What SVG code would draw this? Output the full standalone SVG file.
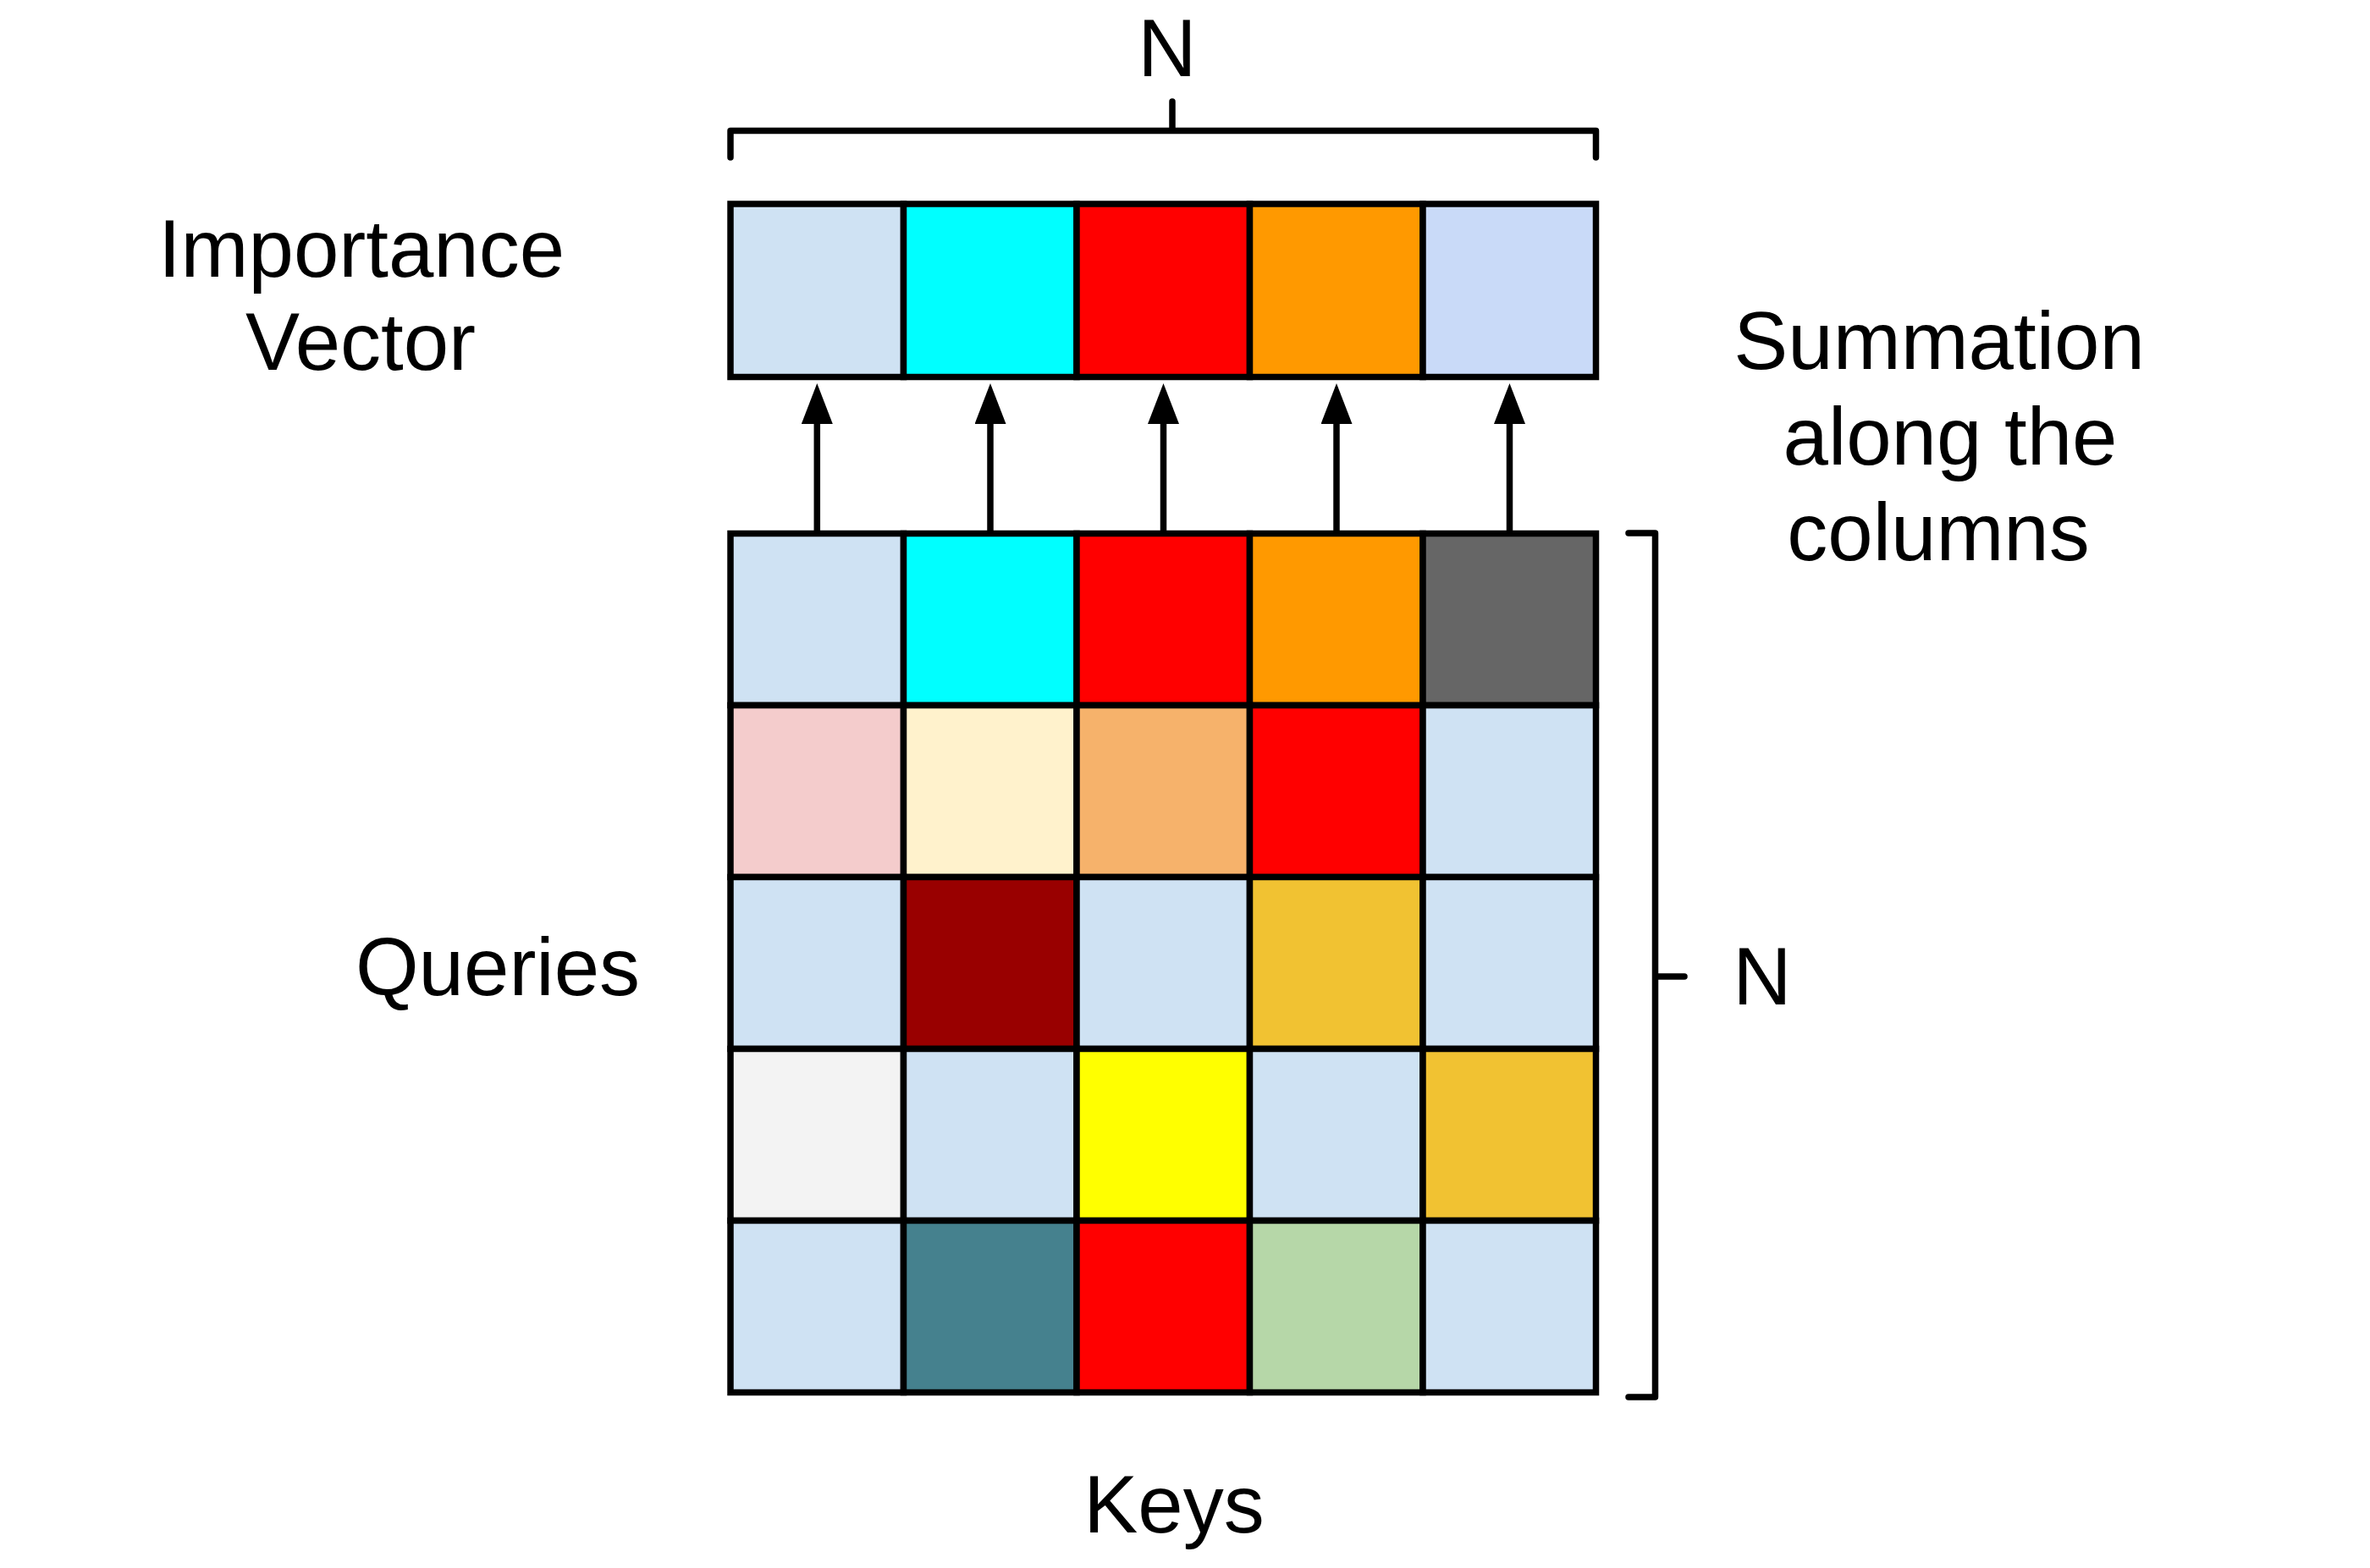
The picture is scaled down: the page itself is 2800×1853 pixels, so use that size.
<svg xmlns="http://www.w3.org/2000/svg" width="2800" height="1853" viewBox="0 0 2800 1853">
<style>
.t{font-family:"Liberation Sans",Arial,sans-serif;font-size:96px;fill:#000;text-anchor:middle}
.c{stroke:#000;stroke-width:7.5}
.b{fill:none;stroke:#000;stroke-width:7.5;stroke-linecap:round;stroke-linejoin:round}
.a{stroke:#000;stroke-width:7.5;fill:none}
</style>
<defs>
<marker id="ah" markerUnits="userSpaceOnUse" markerWidth="50" markerHeight="40" viewBox="0 0 50 40" refX="2" refY="18.5" orient="auto">
<path d="M0,0 L48,18.5 L0,37 z" fill="#000"/>
</marker>
</defs>
<rect width="2800" height="1853" fill="#fff"/>
<g id="top-bracket">
<path class="b" d="M863,186 V154.5 H1885.5 V186 M1385,120 V154.5"/>
<text class="t" x="1379" y="90">N</text>
</g>
<g id="importance-label"><text class="t" x="427" y="327">Importance</text><text class="t" x="426" y="437">Vector</text></g>
<g id="summation-label"><text class="t" x="2291" y="436">Summation</text><text class="t" x="2304" y="549">along the</text><text class="t" x="2290" y="662">columns</text></g>
<g id="queries-label"><text class="t" x="588" y="1176">Queries</text></g>
<g id="keys-label"><text class="t" x="1387" y="1811">Keys</text></g>
<g id="right-bracket">
<path class="b" d="M1924,630 H1955.5 V1651 H1924 M1955.5,1154 H1990"/>
<text class="t" x="2082" y="1187">N</text>
</g>
<g id="importance-vector">
<rect class="c" x="863" y="241" width="204.5" height="204.5" fill="#cfe2f3"/>
<rect class="c" x="1067.5" y="241" width="204.5" height="204.5" fill="#00ffff"/>
<rect class="c" x="1272" y="241" width="204.5" height="204.5" fill="#ff0000"/>
<rect class="c" x="1476.5" y="241" width="204.5" height="204.5" fill="#ff9900"/>
<rect class="c" x="1681" y="241" width="204.5" height="204.5" fill="#c9daf8"/>
</g>
<g id="matrix">
<rect class="c" x="863" y="630.5" width="204.5" height="203" fill="#cfe2f3"/>
<rect class="c" x="1067.5" y="630.5" width="204.5" height="203" fill="#00ffff"/>
<rect class="c" x="1272" y="630.5" width="204.5" height="203" fill="#ff0000"/>
<rect class="c" x="1476.5" y="630.5" width="204.5" height="203" fill="#ff9900"/>
<rect class="c" x="1681" y="630.5" width="204.5" height="203" fill="#666666"/>
<rect class="c" x="863" y="833.5" width="204.5" height="203" fill="#f4cccc"/>
<rect class="c" x="1067.5" y="833.5" width="204.5" height="203" fill="#fff2cc"/>
<rect class="c" x="1272" y="833.5" width="204.5" height="203" fill="#f6b26b"/>
<rect class="c" x="1476.5" y="833.5" width="204.5" height="203" fill="#ff0000"/>
<rect class="c" x="1681" y="833.5" width="204.5" height="203" fill="#cfe2f3"/>
<rect class="c" x="863" y="1036.5" width="204.5" height="203" fill="#cfe2f3"/>
<rect class="c" x="1067.5" y="1036.5" width="204.5" height="203" fill="#990000"/>
<rect class="c" x="1272" y="1036.5" width="204.5" height="203" fill="#cfe2f3"/>
<rect class="c" x="1476.5" y="1036.5" width="204.5" height="203" fill="#f1c232"/>
<rect class="c" x="1681" y="1036.5" width="204.5" height="203" fill="#cfe2f3"/>
<rect class="c" x="863" y="1239.5" width="204.5" height="203" fill="#f3f3f3"/>
<rect class="c" x="1067.5" y="1239.5" width="204.5" height="203" fill="#cfe2f3"/>
<rect class="c" x="1272" y="1239.5" width="204.5" height="203" fill="#ffff00"/>
<rect class="c" x="1476.5" y="1239.5" width="204.5" height="203" fill="#cfe2f3"/>
<rect class="c" x="1681" y="1239.5" width="204.5" height="203" fill="#f1c232"/>
<rect class="c" x="863" y="1442.5" width="204.5" height="203" fill="#cfe2f3"/>
<rect class="c" x="1067.5" y="1442.5" width="204.5" height="203" fill="#45818e"/>
<rect class="c" x="1272" y="1442.5" width="204.5" height="203" fill="#ff0000"/>
<rect class="c" x="1476.5" y="1442.5" width="204.5" height="203" fill="#b6d7a8"/>
<rect class="c" x="1681" y="1442.5" width="204.5" height="203" fill="#cfe2f3"/>
</g>
<g id="connectors">
<line class="a" x1="965.3" y1="627" x2="965.3" y2="499" marker-end="url(#ah)"/>
<line class="a" x1="1170" y1="627" x2="1170" y2="499" marker-end="url(#ah)"/>
<line class="a" x1="1374.5" y1="627" x2="1374.5" y2="499" marker-end="url(#ah)"/>
<line class="a" x1="1579" y1="627" x2="1579" y2="499" marker-end="url(#ah)"/>
<line class="a" x1="1783.5" y1="627" x2="1783.5" y2="499" marker-end="url(#ah)"/>
</g>
</svg>
